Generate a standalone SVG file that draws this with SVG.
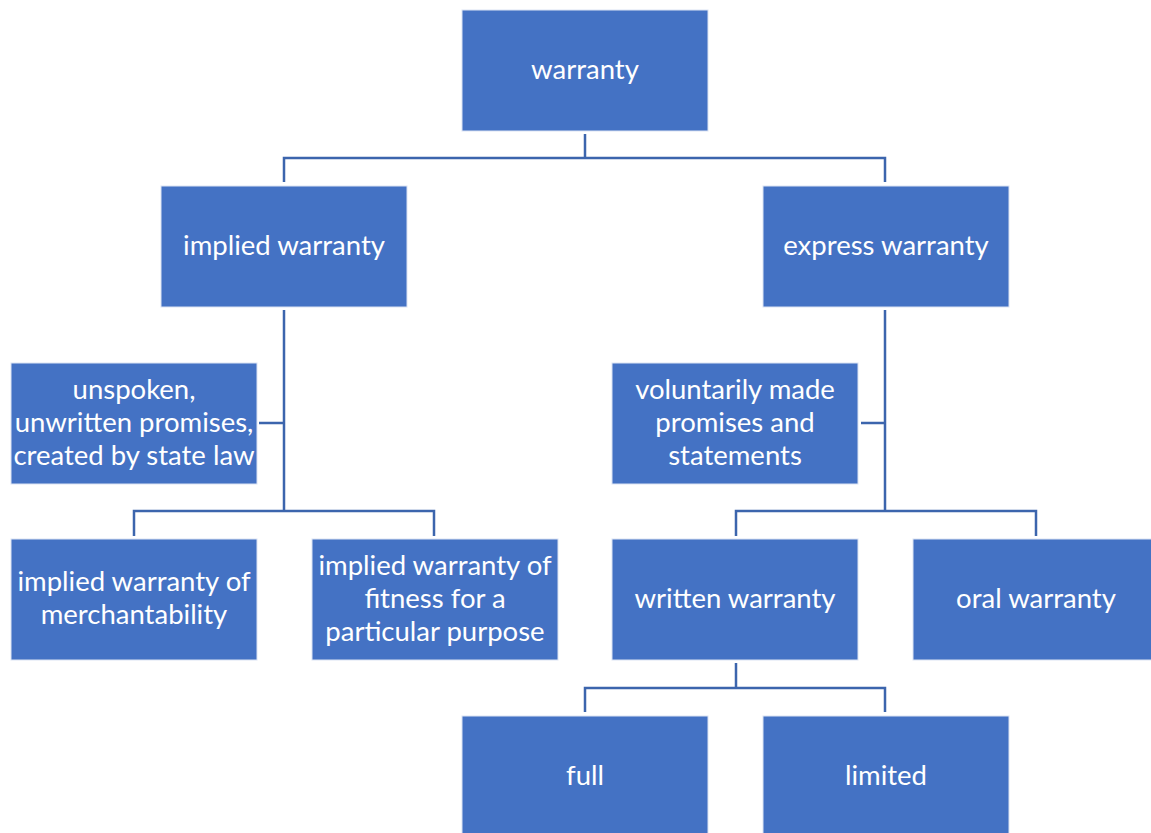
<svg xmlns="http://www.w3.org/2000/svg" width="1151" height="833" viewBox="0 0 1151 833">
<style>
.box{fill:#4472c4;stroke:#dbe3f3;stroke-width:1}
.t{fill:#ffffff;font-family:Lato,"Open Sans",sans-serif;font-size:27.5px;text-anchor:middle}
.c{fill:none;stroke:#3c65ad;stroke-width:2.5}
</style>
<rect width="1151" height="833" fill="#ffffff"/>
<g id="connectors">
<path class="c" d="M585,134V158M284,182V158H885V182"/>
<path class="c" d="M284,310V511M259,423H284M134,536V511H434V536"/>
<path class="c" d="M885,310V511M861,423H885M736,536V511H1036V536"/>
<path class="c" d="M736,663V688M585,712V688H885V712"/>
</g>
<g id="warranty"><rect class="box" x="462" y="10" width="246" height="121"/><text class="t" x="585" y="79">warranty</text></g>
<g id="implied"><rect class="box" x="161" y="186" width="246" height="121"/><text class="t" x="284" y="255">implied warranty</text></g>
<g id="express"><rect class="box" x="763" y="186" width="246" height="121"/><text class="t" x="886" y="255">express warranty</text></g>
<g id="unspoken"><rect class="box" x="11" y="363" width="246" height="121"/><text class="t" x="134" y="399">unspoken,</text><text class="t" x="134" y="432">unwritten promises,</text><text class="t" x="134" y="465">created by state law</text></g>
<g id="voluntarily"><rect class="box" x="612" y="363" width="246" height="121"/><text class="t" x="735" y="399">voluntarily made</text><text class="t" x="735" y="432">promises and</text><text class="t" x="735" y="465">statements</text></g>
<g id="merch"><rect class="box" x="11" y="539" width="246" height="121"/><text class="t" x="134" y="591">implied warranty of</text><text class="t" x="134" y="624">merchantability</text></g>
<g id="fitness"><rect class="box" x="312" y="539" width="246" height="121"/><text class="t" x="435" y="575">implied warranty of</text><text class="t" x="435" y="608">fitness for a</text><text class="t" x="435" y="641">particular purpose</text></g>
<g id="written"><rect class="box" x="612" y="539" width="246" height="121"/><text class="t" x="735" y="608">written warranty</text></g>
<g id="oral"><rect class="box" x="913" y="539" width="246" height="121"/><text class="t" x="1036" y="608">oral warranty</text></g>
<g id="full"><rect class="box" x="462" y="716" width="246" height="121"/><text class="t" x="585" y="785">full</text></g>
<g id="limited"><rect class="box" x="763" y="716" width="246" height="121"/><text class="t" x="886" y="785">limited</text></g>
</svg>
